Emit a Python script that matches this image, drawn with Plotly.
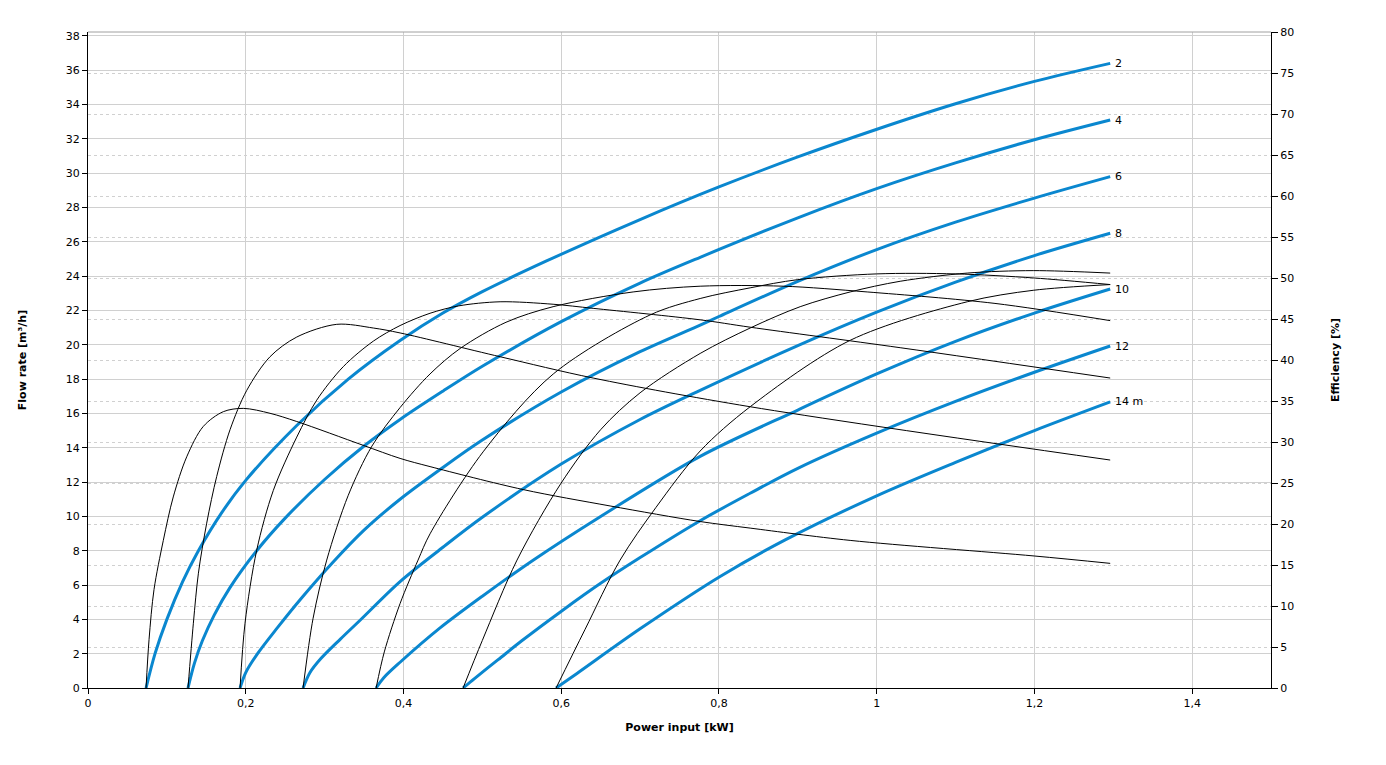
import plotly.graph_objects as go

# ---------------- data ----------------
head_labels = ["2", "4", "6", "8", "10", "12", "14 m"]

# Flow rate curves: power input [kW] -> flow rate [m3/h]
p_q2 = [0.0736, 0.085, 0.1, 0.12, 0.14, 0.17, 0.2, 0.2647, 0.33, 0.3957, 0.45, 0.5, 0.5821, 0.7, 0.8, 0.9, 0.9994, 1.1, 1.2, 1.2961]
q_2 = [0.0, 2.0, 4.0, 6.2, 8.0, 10.25, 12.1, 15.3, 18.0, 20.25, 21.85, 23.1, 24.9, 27.3, 29.2, 30.95, 32.55, 34.05, 35.35, 36.4]

p_q4 = [0.1268, 0.135, 0.145, 0.16, 0.18, 0.2139, 0.25, 0.3, 0.35, 0.3957, 0.45, 0.5, 0.6, 0.7, 0.7762, 0.9, 1.0, 1.1, 1.2, 1.2961]
q_4 = [0.0, 1.45, 2.75, 4.25, 5.85, 8.0, 9.9, 12.15, 14.1, 15.65, 17.3, 18.75, 21.35, 23.6, 25.1, 27.4, 29.1, 30.6, 31.95, 33.1]

p_q6 = [0.1928, 0.2, 0.215, 0.24, 0.27, 0.31, 0.35, 0.3957, 0.45, 0.5, 0.6, 0.7, 0.7762, 0.8, 0.9, 1.0, 1.1, 1.2, 1.2961]
q_6 = [0.0, 0.9, 2.0, 3.5, 5.2, 7.3, 9.2, 11.0, 12.85, 14.45, 17.25, 19.6, 21.15, 21.65, 23.7, 25.55, 27.15, 28.55, 29.8]

p_q8 = [0.2727, 0.2815, 0.295, 0.32, 0.345, 0.3957, 0.45, 0.5, 0.6, 0.7, 0.7762, 0.9, 1.0, 1.1, 1.2, 1.2961]
q_8 = [0.0, 0.9, 1.7, 2.85, 3.95, 6.2, 8.2, 9.95, 13.05, 15.65, 17.35, 19.95, 21.9, 23.65, 25.2, 26.5]

p_q10 = [0.3653, 0.375, 0.3957, 0.4464, 0.5, 0.5644, 0.65, 0.7762, 0.9, 1.0, 1.1, 1.2, 1.2961]
q_10 = [0.0, 0.6, 1.5, 3.5, 5.35, 7.45, 10.0, 13.5, 16.2, 18.3, 20.2, 21.85, 23.25]

p_q12 = [0.4756, 0.49, 0.52, 0.55, 0.6024, 0.65, 0.7001, 0.7762, 0.8396, 0.9, 1.0, 1.1, 1.2, 1.2961]
q_12 = [0.0, 0.55, 1.65, 2.75, 4.55, 6.1, 7.6, 9.75, 11.35, 12.8, 14.85, 16.7, 18.4, 19.93]

p_q14 = [0.5935, 0.62, 0.7, 0.8015, 0.884, 1.0, 1.1, 1.2, 1.2961]
q_14 = [0.0, 0.85, 3.45, 6.5, 8.63, 11.2, 13.15, 15.0, 16.67]

# Efficiency curves: power input [kW] -> efficiency [%]
p_e2 = [0.0736, 0.0774, 0.0837, 0.0955, 0.1081, 0.1252, 0.1462, 0.1716, 0.1969, 0.2308, 0.2647, 0.3488, 0.3957, 0.4337, 0.5517, 0.662, 0.7762, 0.8396, 0.9664, 1.1997, 1.2961]
e_2 = [0.0, 5.9, 12.0, 18.0, 23.3, 28.2, 31.9, 33.7, 34.1, 33.5, 32.5, 29.6, 28.0, 27.0, 24.2, 22.2, 20.3, 19.5, 18.0, 16.1, 15.2]

p_e4 = [0.1268, 0.1336, 0.14, 0.1505, 0.1632, 0.1801, 0.2013, 0.2308, 0.2647, 0.3154, 0.3618, 0.3957, 0.5225, 0.6405, 0.8396, 1.2961]
e_4 = [0.0, 7.9, 14.0, 20.1, 25.8, 31.5, 36.3, 40.4, 42.8, 44.35, 43.9, 43.3, 40.4, 37.8, 34.3, 27.8]

p_e6 = [0.1928, 0.1991, 0.2139, 0.235, 0.2647, 0.29, 0.3238, 0.3618, 0.3957, 0.4337, 0.47, 0.5225, 0.5897, 0.6405, 0.7762, 0.8396, 1.0298, 1.2961]
e_6 = [0.0, 7.9, 16.8, 24.1, 30.6, 35.1, 39.2, 42.3, 44.2, 45.7, 46.6, 47.1, 46.8, 46.3, 44.9, 44.0, 41.5, 37.8]

p_e8 = [0.2727, 0.2854, 0.3027, 0.33, 0.36, 0.3957, 0.4337, 0.4718, 0.53, 0.5897, 0.6912, 0.7762, 0.8814, 0.988, 1.15, 1.2961]
e_8 = [0.0, 8.5, 15.6, 23.5, 29.5, 34.2, 38.3, 41.4, 44.6, 46.5, 48.3, 49.0, 49.0, 48.3, 46.9, 44.8]

p_e10 = [0.3653, 0.3757, 0.3957, 0.4185, 0.4337, 0.501, 0.59, 0.7128, 0.7762, 0.8396, 0.9, 1.0, 1.1, 1.2, 1.2961]
e_10 = [0.0, 4.4, 10.3, 15.6, 18.8, 28.8, 38.3, 45.5, 47.5, 48.8, 49.8, 50.5, 50.5, 50.0, 49.2]

p_e12 = [0.4756, 0.5, 0.544, 0.6, 0.65, 0.7, 0.7762, 0.8396, 0.903, 0.9664, 1.0298, 1.1148, 1.1985, 1.2961]
e_12 = [0.0, 5.8, 15.6, 25.0, 31.5, 36.0, 40.8, 43.9, 46.5, 48.3, 49.6, 50.6, 50.9, 50.6]

p_e14 = [0.5935, 0.63, 0.6747, 0.72, 0.7762, 0.8396, 0.9664, 1.1148, 1.1985, 1.2961]
e_14 = [0.0, 7.1, 15.6, 22.0, 28.9, 34.3, 42.4, 47.1, 48.5, 49.2]

flow_p = [p_q2, p_q4, p_q6, p_q8, p_q10, p_q12, p_q14]
flow_q = [q_2, q_4, q_6, q_8, q_10, q_12, q_14]
eff_p = [p_e2, p_e4, p_e6, p_e8, p_e10, p_e12, p_e14]
eff_e = [e_2, e_4, e_6, e_8, e_10, e_12, e_14]

BLUE = "#0a87cf"
FONT = "DejaVu Sans"

fig = go.Figure()

for px_, qy, lab in zip(flow_p, flow_q, head_labels):
    fig.add_trace(go.Scatter(x=px_, y=qy, mode="lines", yaxis="y",
                             line=dict(color=BLUE, width=3, shape="spline", smoothing=0.9),
                             hoverinfo="skip", showlegend=False))
    fig.add_annotation(x=px_[-1], y=qy[-1], xref="x", yref="y", text=lab,
                       showarrow=False, xanchor="left", yanchor="middle", xshift=3,
                       font=dict(family=FONT, size=11, color="#000"))

for px_, ey in zip(eff_p, eff_e):
    fig.add_trace(go.Scatter(x=px_, y=ey, mode="lines", yaxis="y2",
                             line=dict(color="#000000", width=1, shape="spline", smoothing=0.9),
                             hoverinfo="skip", showlegend=False))

fig.add_shape(type="line", xref="paper", yref="paper", x0=0, x1=1, y0=1, y1=1,
              line=dict(color="#a0a0a0", width=1))

fig.update_layout(
    width=1386, height=765,
    margin=dict(l=80, r=123, t=24, b=85),
    plot_bgcolor="white", paper_bgcolor="white",
    separators=", ",
    font=dict(family=FONT, size=11, color="#000"),
    showlegend=False,
    xaxis=dict(range=[0, 1.5], dtick=0.2, tick0=0, showgrid=True, gridcolor="#d0d0d0", gridwidth=1,
               zeroline=False, showline=True, linecolor="#000", linewidth=1,
               ticks="outside", ticklen=5, tickcolor="#000",
               title=dict(text="<b>Power input [kW]</b>", font=dict(family=FONT, size=11), standoff=14)),
    yaxis=dict(range=[0, 38.23], dtick=2, tick0=0, showgrid=True, gridcolor="#d0d0d0", gridwidth=1,
               zeroline=False, showline=True, linecolor="#000", linewidth=1,
               ticks="outside", ticklen=5, tickcolor="#000",
               title=dict(text="<b>Flow rate [m³/h]</b>", font=dict(family=FONT, size=11), standoff=36)),
    yaxis2=dict(range=[0, 80], dtick=5, tick0=0, overlaying="y", side="right",
                showgrid=True, gridcolor="#d0d0d0", gridwidth=1, griddash="3px,3px",
                zeroline=False, showline=True, linecolor="#000", linewidth=1,
                ticks="outside", ticklen=6, tickcolor="#000",
                title=dict(text="<b>Efficiency [%]</b>", font=dict(family=FONT, size=11), standoff=38)),
)

fig.write_html("out.html")
